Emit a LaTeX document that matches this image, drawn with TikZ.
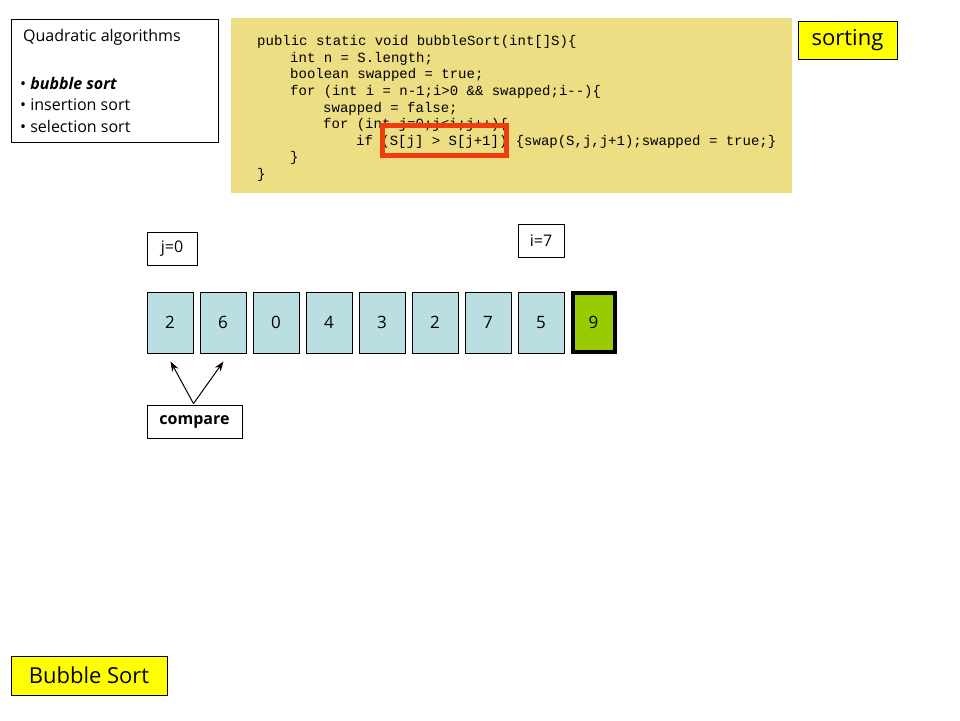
\documentclass[tikz,border=0pt]{standalone}
\usepackage{fontspec}
\setmainfont{Open Sans}
\newfontfamily\codefont{Liberation Mono}
\usetikzlibrary{arrows.meta,calc}
\definecolor{codebg}{RGB}{237,221,131}
\definecolor{cellblue}{RGB}{186,222,226}
\definecolor{cellgreen}{RGB}{153,204,0}
\definecolor{redbox}{RGB}{240,60,15}
\definecolor{tagyellow}{RGB}{255,255,0}
\tikzset{
  cellbox/.style={draw=black, line width=0.8pt, fill=cellblue, minimum width=46pt, minimum height=61pt, inner sep=0pt, font=\fontsize{17}{20}\selectfont},
  labelbox/.style={draw=black, line width=0.8pt, fill=white, inner sep=0pt, font=\fontsize{16}{19}\selectfont},
  tagbox/.style={draw=black, line width=0.8pt, fill=tagyellow, inner sep=0pt, font=\fontsize{22}{26}\selectfont},
  codeline/.style={anchor=west, inner sep=0pt, font=\codefont\fontsize{14}{16}\selectfont, text=black},
  listtext/.style={anchor=west, inner sep=0pt, font=\fontsize{16}{19}\selectfont},
  cmparrow/.style={-{Stealth[length=10pt,width=7pt]}, line width=1pt}
}
\begin{document}
\begin{tikzpicture}[x=1pt,y=-1pt]
\useasboundingbox (0,0) rectangle (960,720);
\fill[white] (0,0) rectangle (960,720);

% Quadratic algorithms box
\node[draw=black, line width=0.8pt, minimum width=207pt, minimum height=123pt, inner sep=0pt] (quad) at (114.5,81) {};
\node[listtext] (qt) at (23,37) {Quadratic algorithms};
\node[listtext] (q1) at (20,83) {\textbullet\ \textit{\textbf{bubble sort}}};
\node[listtext] (q2) at (20,104.5) {\textbullet\ insertion sort};
\node[listtext] (q3) at (20,126) {\textbullet\ selection sort};

% code block
\node[fill=codebg, minimum width=561pt, minimum height=175pt, inner sep=0pt] (code) at (511.5,105.5) {};
\node[codeline] (l1) at (257,42) {public static void bubbleSort(int[]S)\{};
\node[codeline] (l2) at (290,58.6) {int n = S.length;};
\node[codeline] (l3) at (290,75.2) {boolean swapped = true;};
\node[codeline] (l4) at (290,91.8) {for (int i = n-1;i>0 \&\& swapped;i--)\{};
\node[codeline] (l5) at (323,108.4) {swapped = false;};
\node[codeline] (l6) at (323,125) {for (int j=0;j<i;j++)\{};
\node[codeline] (l7) at (356,141.6) {if (S[j] > S[j+1]) \{swap(S,j,j+1);swapped = true;\}};
\node[codeline] (l8) at (290,158.2) {\}};
\node[codeline] (l9) at (257,174.8) {\}};
\node[draw=redbox, line width=5pt, minimum width=124pt, minimum height=30pt, inner sep=0pt] (hl) at (444.5,140.5) {};

% tags
\node[tagbox, minimum width=99pt, minimum height=38pt] (sorting) at (847.5,40) {sorting};
\node[tagbox, minimum width=156pt, minimum height=39pt] (title) at (89,675.5) {Bubble Sort};

% index labels
\node[labelbox, minimum width=50pt, minimum height=33pt] (jlab) at (172,248.5) {j=0};
\node[labelbox, minimum width=46pt, minimum height=33pt] (ilab) at (541,240.5) {i=7};

% array cells
\node[cellbox] (c1) at (170,322.5) {2};
\node[cellbox] (c2) at (223,322.5) {6};
\node[cellbox] (c3) at (276,322.5) {0};
\node[cellbox] (c4) at (329,322.5) {4};
\node[cellbox] (c5) at (382,322.5) {3};
\node[cellbox] (c6) at (435,322.5) {2};
\node[cellbox] (c7) at (488,322.5) {7};
\node[cellbox] (c8) at (541,322.5) {5};
\node[cellbox, fill=cellgreen, line width=4pt, minimum width=42pt, minimum height=59pt] (c9) at (593.5,322.5) {9};

% compare
\node[labelbox, minimum width=95pt, minimum height=33pt, font=\fontsize{16}{19}\selectfont\bfseries] (cmp) at (194.5,421.5) {compare};
\coordinate (t1) at ($(c1.south)+(0.5,8)$);
\coordinate (t2) at ($(c2.south)+(0.5,8)$);
\draw[cmparrow] ($(cmp.north)+(-1,-1)$) -- (t1);
\draw[cmparrow] ($(cmp.north)+(-1,-1)$) -- (t2);
\end{tikzpicture}
\end{document}
